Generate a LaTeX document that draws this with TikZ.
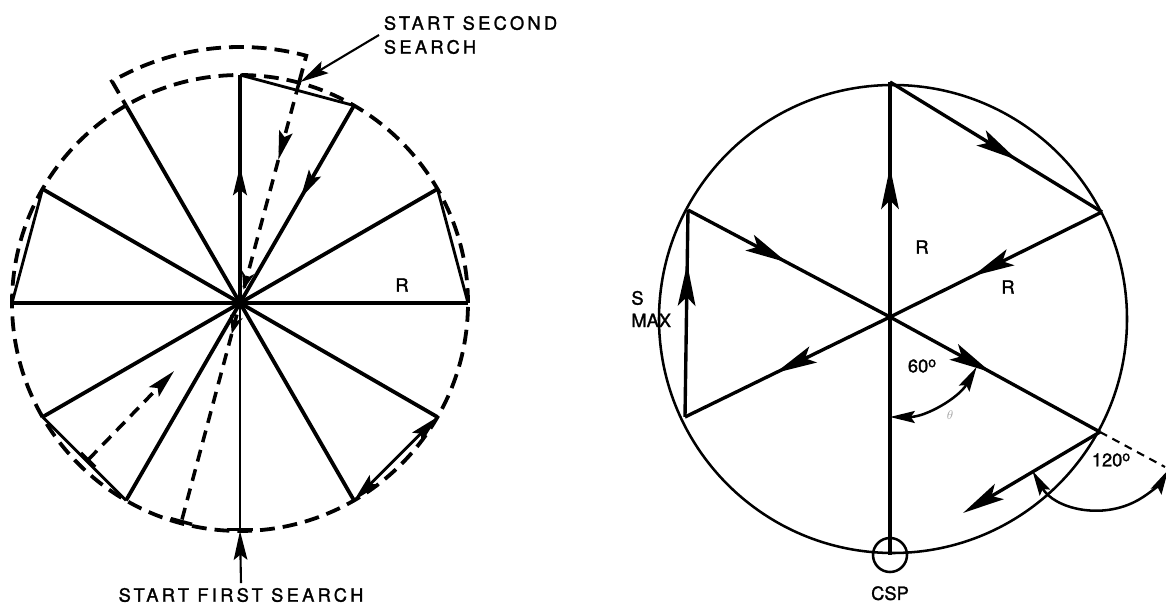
\documentclass[tikz,border=0pt]{standalone}
\usepackage{fontspec}
\setsansfont[FakeBold=1.5]{TeX Gyre Heros}
\newfontfamily\spacedsf[LetterSpace=18,FakeBold=1.5]{TeX Gyre Heros}
\usetikzlibrary{arrows.meta,positioning,calc,decorations.markings}
\newcommand{\degsign}{\raisebox{0.55ex}{\fontsize{10}{10}\selectfont o}}

\begin{document}
\begin{tikzpicture}[x=0.025cm,y=0.025cm,
    >={Stealth[length=0.72cm,width=0.34cm,inset=0.13cm]},
    spoke/.style={line width=2.7pt},
    chord/.style={line width=2pt},
    rim/.style={line width=2.7pt,dash pattern=on 0.37cm off 0.2cm},
    search/.style={line width=2.5pt,dash pattern=on 0.3cm off 0.2cm},
    leg/.style={line width=2.4pt},
    midhead/.style={postaction=decorate,decoration={markings,
        mark=at position #1 with {\arrow{Stealth[length=0.72cm,width=0.34cm,inset=0.13cm]}}}},
    bighead/.style={postaction=decorate,decoration={markings,
        mark=at position #1 with {\arrow{Stealth[length=1.05cm,width=0.44cm,inset=0.22cm]}}}},
    arcend/.style={line width=1.8pt,{Stealth[length=0.62cm,width=0.3cm,inset=0.1cm]}-{Stealth[length=0.62cm,width=0.3cm,inset=0.1cm]}},
    lbl/.style={font=\sffamily\fontsize{13}{16}\selectfont},
    caps/.style={font=\spacedsf\fontsize{13}{17}\selectfont}]
\useasboundingbox (0,0) rectangle (1166,606);

% first picture: two sector searches
\coordinate (lc) at (240,303);
\draw[rim] (lc) circle (228);
\foreach \a in {0,30,...,330}
  \coordinate (s\a) at ($(lc)+(\a:228)$);
\foreach \a in {0,30,120,150,180,210,240,300,330}
  \draw[spoke] (lc) -- (s\a);
\draw[spoke,midhead=0.6] (lc) -- (s90);
\draw[spoke,midhead=0.47] (s60) -- (lc);
\draw[line width=1.5pt,{Bar[width=0.65cm,line width=2.4pt]}-] (s270) -- (lc);

\draw[chord] (s90) -- (s60);
\draw[chord] (s240) -- (s210);
\draw[chord] (s30) -- (s0);
\draw[chord] (s180) -- (s150);
\draw[chord,<->] (s300) -- (s330);

% second search
\coordinate (b1) at ($(lc)+(75:228)$);
\coordinate (b2) at ($(lc)+(255:228)$);
\draw[search,-{Bar[width=0.55cm]},postaction=decorate,decoration={markings,
    mark=at position 0.175 with {\arrow{>}},
    mark=at position 0.47 with {\arrow{Stealth[length=0.45cm,width=0.32cm]}},
    mark=at position 0.57 with {\arrow{Stealth[length=0.45cm,width=0.32cm]}}}] (b1) -- (b2);
\draw[rim] (b1) -- ($(lc)+(75:256)$) arc[start angle=75,end angle=120,radius=256] -- (s120);
\coordinate (t2) at ($(s210)!0.53!(s240)$);
\coordinate (h2) at ($(t2)!0.57!(lc)$);
\draw[search,{Bar[width=0.5cm]}->] (t2) -- (h2);

\node[lbl] (rlen) at (402,321) {R};
\node[caps] (first) at (241,11) {START FIRST SEARCH};
\draw[line width=1.5pt,->] (first.north) -- (s270);
\node[caps,align=left,anchor=west] (second) at (379,571) {START SECOND\\SEARCH};
\draw[line width=1.5pt,->,shorten >=1pt] (second.west) -- (b1);

% second picture: one sector search from the CSP
\coordinate (rc) at (890,289);
\coordinate (ro) at (893,287);
\draw[line width=1.8pt] (ro) circle (234);
\coordinate (top) at (890,524);
\coordinate (ur) at (1102,394);
\coordinate (ul) at (688,396);
\coordinate (ll) at (685,189);
\coordinate (lr) at (1100,174);
\coordinate (csp) at (890,51);
\coordinate (nx) at (963,93);
\coordinate (ext) at (1165,139);

\draw[leg,bighead=0.82] (csp) -- (top);
\draw[leg,bighead=0.6] (top) -- (ur);
\draw[leg,bighead=0.61] (ur) -- (rc);
\draw[leg,bighead=0.56] (rc) -- (ll);
\draw[leg,bighead=0.74] (ll) -- (ul);
\draw[leg,bighead=0.49] (ul) -- (rc);
\draw[leg,bighead=0.48] (rc) -- (lr);
\draw[leg,-{Stealth[length=1.05cm,width=0.44cm,inset=0.22cm]}] (lr) -- (nx);
\draw[line width=1.5pt,dash pattern=on 0.2cm off 0.15cm] (lr) -- (ext);

\draw[arcend] ($(rc)+(270:100)$) arc[start angle=270,end angle=330,radius=100];
\draw[arcend] ($(lr)+(210:78)$) arc[start angle=210,end angle=331,radius=78];

\node[circle,draw,line width=1.8pt,minimum size=0.85cm,inner sep=0pt] (cspring) at (csp) {};
\node[lbl,below=0.2cm of cspring] (csplbl) {CSP};
\node[lbl] (rup) at (922,359) {R};
\node[lbl] (rdiag) at (1008,319) {R};
\node[lbl] (sixty) at (922,240) {60\degsign};
\node[lbl] (turn) at (1111,146) {120\degsign};
\node[font=\small,text=black!35] (theta) at (950,191) {$\theta$};
\node[lbl,align=left,anchor=east] (smax) at (676,297) {S\\MAX};
\end{tikzpicture}
\end{document}
